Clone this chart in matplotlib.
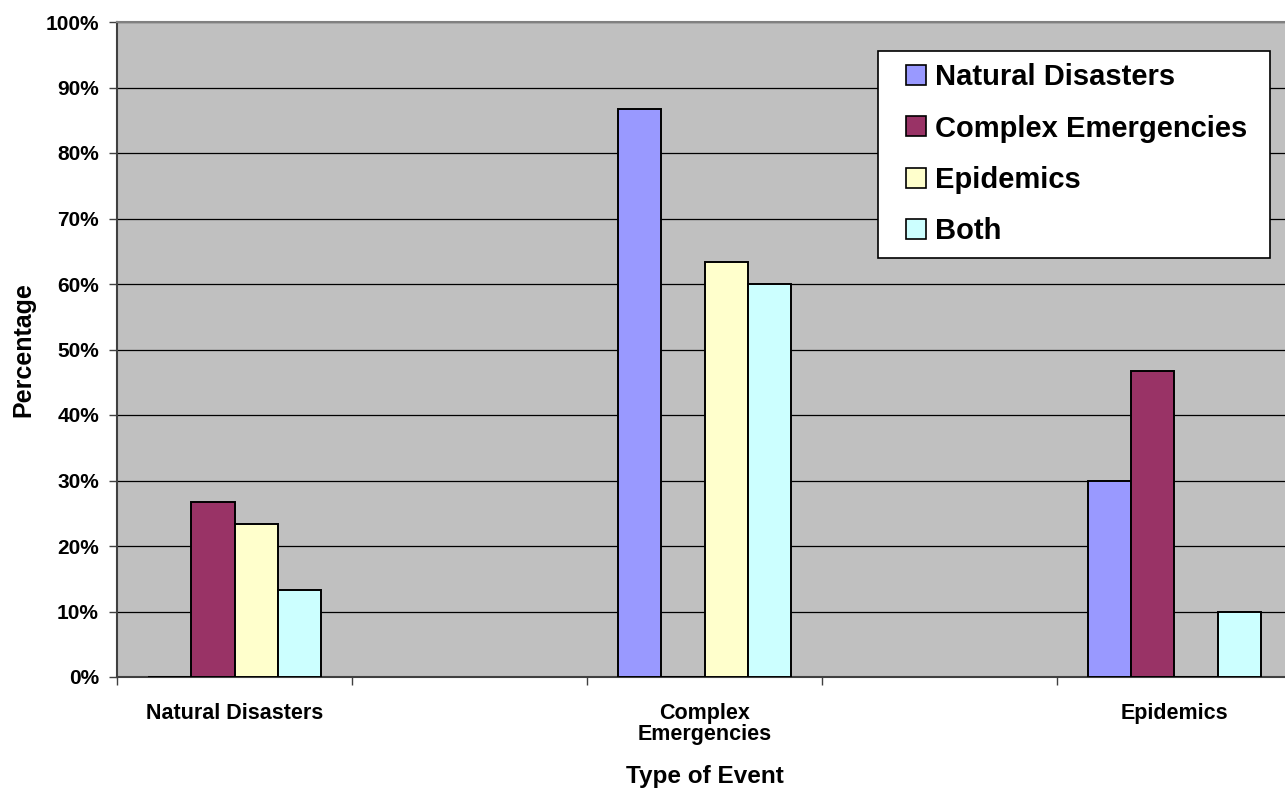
import numpy as np
import matplotlib.pyplot as plt
from matplotlib.patches import Patch, Rectangle
from matplotlib.legend_handler import HandlerPatch

# categories on the x axis (Excel chart had empty slots between them)
categories = ["Natural Disasters", "Complex\nEmergencies", "Epidemics"]
cat_pos = [0, 2, 4]

# percentage of respondents per event type
series_names = ["Natural Disasters", "Complex Emergencies", "Epidemics", "Both"]
natural_disasters = [0.0, 86.7, 30.0]
complex_emergencies = [26.7, 0.0, 46.7]
epidemics = [23.3, 63.3, 0.0]
both = [13.3, 60.0, 10.0]

colors = ["#9999FF", "#993366", "#FFFFCC", "#CCFFFF"]

plt.rcParams["font.family"] = ["Liberation Sans", "DejaVu Sans"]
plt.rcParams["font.weight"] = "bold"

fig = plt.figure(figsize=(12.85, 7.89), dpi=100)
ax = fig.add_axes([117 / 1285, 1 - 677 / 789, 1175 / 1285, 655 / 789])
ax.set_facecolor("#C0C0C0")

width = 0.183
x = np.array(cat_pos, dtype=float)
all_series = [natural_disasters, complex_emergencies, epidemics, both]
for i, vals in enumerate(all_series):
    ax.bar(x + (i - 1.5) * width, vals, width, color=colors[i],
           edgecolor="black", linewidth=1.4, zorder=3)

ax.set_xlim(-0.5, 4.5)
ax.set_ylim(0, 100)
ax.set_yticks(np.arange(0, 101, 10))
ax.set_yticklabels([f"{v}%" for v in range(0, 101, 10)], fontsize=15, fontweight="bold")
ax.yaxis.grid(True, color="black", linewidth=0.9, zorder=1)
ax.set_axisbelow(True)

ax.set_xticks(cat_pos)
ax.set_xticklabels(categories, fontsize=15.5, fontweight="bold", linespacing=0.95)
ax.set_xticks([-0.5, 0.5, 1.5, 2.5, 3.5], minor=True)
ax.tick_params(axis="x", which="major", length=0, pad=19)
ax.tick_params(axis="x", which="minor", length=6, width=1, color="#404040", direction="out")
ax.tick_params(axis="y", length=6, width=1, color="#404040", direction="out", pad=7)

for side in ["left", "bottom"]:
    ax.spines[side].set_color("#404040")
    ax.spines[side].set_linewidth(1.5)
ax.spines["top"].set_color("#808080")
ax.spines["top"].set_linewidth(1.5)
ax.spines["right"].set_visible(False)

ax.set_ylabel("Percentage", fontsize=18, fontweight="bold", labelpad=7)
ax.set_xlabel("Type of Event", fontsize=17.5, fontweight="bold", labelpad=15)


def square_right(legend, orig_handle, xdescent, ydescent, width, height, fontsize):
    # square swatch pushed to the right end of the handle box
    return Rectangle((-xdescent + width - height, -ydescent), height, height)


handles = [Patch(facecolor=c, edgecolor="black", linewidth=1.2) for c in colors]
leg = fig.legend(handles, series_names, loc="upper left",
                 bbox_to_anchor=(878 / 1285, 1 - 252 / 789, 392 / 1285, 201 / 789),
                 mode="expand",
                 handler_map={Patch: HandlerPatch(patch_func=square_right)},
                 prop={"size": 21, "weight": "bold"},
                 handlelength=1.23, handleheight=0.67, handletextpad=0.3,
                 labelspacing=0.8, borderpad=0.42, borderaxespad=0,
                 fancybox=False, framealpha=1, edgecolor="black")
leg.get_frame().set_linewidth(1.2)

fig.savefig("out.png", dpi=100)
